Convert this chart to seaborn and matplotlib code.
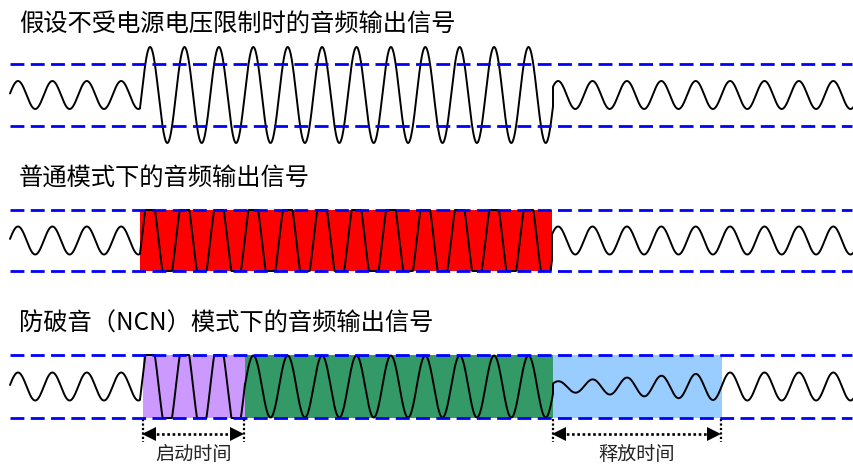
import numpy as np
import pandas as pd
import matplotlib
matplotlib.use("Agg")
import matplotlib.pyplot as plt
import seaborn as sns
from matplotlib.patches import Rectangle

# ---------------- data ----------------
titles = ["假设不受电源电压限制时的音频输出信号",
          "普通模式下的音频输出信号",
          "防破音（NCN）模式下的音频输出信号"]
title_baseline = [30.5, 185.5, 330.5]
panel_center = [95, 240.5, 386.5]
limit_half = [31, 30.5, 31.5]          # dashed supply-limit lines (+/-)
period = 34.4

# wave segments per panel: start, end, phase origin, amplitude at start/end, clipped to limit
p1_start = [10, 140, 553]
p1_end = [140, 553, 854]
p1_origin = [9.4, 141.5, 549.5]
p1_amp0 = [14, 48, 14]
p1_amp1 = [14, 48, 14]
p1_clip = [False, False, False]

p2_start = [10, 140, 552]
p2_end = [140, 552, 854]
p2_origin = [9.4, 141.5, 549.5]
p2_amp0 = [14, 48, 14]
p2_amp1 = [14, 48, 14]
p2_clip = [False, True, False]

p3_start = [10, 140, 245, 553, 722]
p3_end = [140, 245, 553, 722, 854]
p3_origin = [9.4, 141.5, 141.5, 549.5, 549.5]
p3_amp0 = [14, 48, 31, 5, 14]
p3_amp1 = [14, 48, 31, 14, 14]
p3_clip = [False, True, False, False, False]

# shaded regions
p2_reg_x0 = [140]
p2_reg_x1 = [552]
p2_reg_col = ["#FF0000"]
p3_reg_x0 = [143, 245, 553]
p3_reg_x1 = [245, 553, 722]
p3_reg_col = ["#CC99FF", "#339966", "#99CCFF"]

# time annotations
time_labels = ["启动时间", "释放时间"]
time_x0 = [143, 553]
time_x1 = [244, 721]

# ---------------- plot ----------------
sns.set_theme(style="white")
plt.rcParams["font.family"] = ["Noto Sans CJK SC", "DejaVu Sans"]

fig = plt.figure(figsize=(8.54, 4.65), dpi=100)
ax = fig.add_axes([0, 0, 1, 1])
ax.set_xlim(0, 854)
ax.set_ylim(465, 0)
ax.axis("off")


def build_wave(center, lim, starts, ends, origins, a0s, a1s, clips):
    xs, ys = [], []
    for s, e, o, a0, a1, c in zip(starts, ends, origins, a0s, a1s, clips):
        x = np.linspace(s, e, int((e - s) * 4) + 2)
        amp = a0 + (a1 - a0) * (x - s) / (e - s)
        v = amp * np.sin(2 * np.pi * (x - o) / period)
        if c:
            v = np.clip(v, -lim, lim)
        xs.append(x)
        ys.append(center - v)
    return pd.DataFrame({"x": np.concatenate(xs), "y": np.concatenate(ys)})


panels = [
    (p1_start, p1_end, p1_origin, p1_amp0, p1_amp1, p1_clip, [], [], []),
    (p2_start, p2_end, p2_origin, p2_amp0, p2_amp1, p2_clip, p2_reg_x0, p2_reg_x1, p2_reg_col),
    (p3_start, p3_end, p3_origin, p3_amp0, p3_amp1, p3_clip, p3_reg_x0, p3_reg_x1, p3_reg_col),
]

for i, (st, en, og, a0, a1, cl, rx0, rx1, rc) in enumerate(panels):
    c = panel_center[i]
    lim = limit_half[i]
    for x0, x1, col in zip(rx0, rx1, rc):
        ax.add_patch(Rectangle((x0, c - lim), x1 - x0, 2 * lim,
                               facecolor=col, edgecolor="none", zorder=1))
    df = build_wave(c, lim, st, en, og, a0, a1, cl)
    sns.lineplot(data=df, x="x", y="y", sort=False, estimator=None,
                 color="black", linewidth=1.4, ax=ax, zorder=3)
    for yy in (c - lim, c + lim):
        ax.plot([10, 852], [yy, yy], color="#0000FF", linewidth=2.0,
                dashes=(5, 2.3), zorder=4, solid_capstyle="butt")
    ax.text(19, title_baseline[i], titles[i], fontsize=17.5, color="black",
            ha="left", va="baseline")

# time arrows
ya = 434
for lab, x0, x1 in zip(time_labels, time_x0, time_x1):
    for xx in (x0, x1):
        ax.plot([xx, xx], [419, 442], color="black", linewidth=1.6,
                linestyle=(0, (1, 1)), zorder=5)
    ax.plot([x0 + 8, x1 - 8], [ya, ya], color="black", linewidth=1.9,
            linestyle=(0, (1, 1)), zorder=5)
    ax.plot([x0 + 6.5], [ya], marker="<", markersize=10, color="black",
            markeredgewidth=0, zorder=6)
    ax.plot([x1 - 6.5], [ya], marker=">", markersize=10, color="black",
            markeredgewidth=0, zorder=6)
    ax.text((x0 + x1) / 2, 460, lab, fontsize=13.8, color="#222222",
            ha="center", va="baseline")

fig.savefig("out.png", dpi=100)
